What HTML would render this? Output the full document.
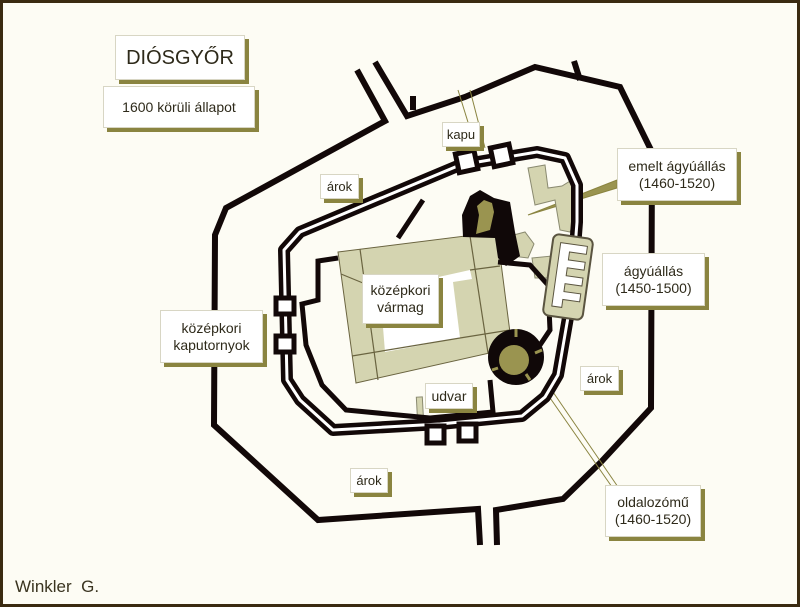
<!DOCTYPE html>
<html><head><meta charset="utf-8"><style>
html,body{margin:0;padding:0}
body{width:800px;height:607px;overflow:hidden;background:#fdfcf4;font-family:"Liberation Sans",sans-serif}
svg{position:absolute;left:0;top:0}
.lb{position:absolute;background:#fff;border:1px solid #d8d6c4;box-shadow:4px 4px 0 #8a8440;color:#2e2a1a;text-align:center;display:flex;align-items:center;justify-content:center;line-height:1.2;font-size:14px}
</style></head><body>
<svg width="800" height="607" viewBox="0 0 800 607">
<rect x="1.5" y="1.5" width="797" height="604" fill="none" stroke="#3a2a10" stroke-width="3"/>
<g fill="none" stroke="#120808" stroke-width="6" stroke-linejoin="miter">
<polyline points="357,70 385,121 226,208 215,235 214,425 318,520 478,509 480,545"/>
<polyline points="375,62 407,116 465,97 535,67 620,87 652,152 651,408 601,462 563,499 496,510 497,545"/>
<line x1="574" y1="61" x2="580" y2="80"/>
<line x1="413" y1="96" x2="413" y2="110"/>
</g>
<!-- gate path lines -->
<g stroke="#8a8440" stroke-width="1" fill="none">
<line x1="458" y1="90" x2="476" y2="148"/><line x1="470" y1="90" x2="485" y2="148"/>
<line x1="548" y1="395" x2="612" y2="487"/><line x1="553" y1="392" x2="618" y2="487"/>
</g>
<polygon points="617,180 617,188 528,215" fill="#9a9450" stroke="#8a8440" stroke-width="1"/>
<!-- palace -->
<g>
<polygon points="338,252 497,232 512,348 356,383" fill="#d4d4b0" stroke="#6a6440" stroke-width="1"/>
<polygon points="380,290 470,270 472,279 453,282 460,338 385,352" fill="#fff"/>
<g stroke="#6a6440" stroke-width="1.2">
<line x1="360" y1="249" x2="378" y2="380"/>
<line x1="470" y1="236" x2="488" y2="353"/>
<line x1="341" y1="274" x2="380" y2="290"/>
<line x1="470" y1="270" x2="500" y2="266"/>
<line x1="352" y1="356" x2="460" y2="338"/>
<line x1="460" y1="338" x2="510" y2="330"/>
</g>
</g>
<!-- gray structures -->
<g fill="#d4d4b0" stroke="#8a8a70" stroke-width="1">
<path d="M528,168 L545,165 L548,188 L562,186 L575,178 L578,215 L570,232 L560,230 L555,200 L535,205 Z"/>
<path d="M510,236 L525,232 L534,244 L528,258 L512,256 Z"/>
<path d="M532,258 L552,256 L553,278 L535,278 Z"/>
<rect x="417" y="397" width="6" height="30" transform="rotate(-3 420 410)"/>
</g>
<!-- emelt ágyúállás black -->
<polygon points="462,215 470,196 480,190 494,198 510,202 515,232 520,256 506,266 498,258 495,238 463,237" fill="#100808"/>
<polygon points="477,206 484,200 492,203 494,212 490,230 476,234 479,215" fill="#9a9450"/>
<!-- oldalozómű -->
<circle cx="516" cy="357" r="28" fill="#100808"/>
<circle cx="514" cy="360" r="15" fill="#9a9450"/>
<g stroke="#9a9450" stroke-width="3"><line x1="516" y1="329" x2="516" y2="337"/><line x1="542" y1="350" x2="535" y2="353"/><line x1="492" y1="370" x2="498" y2="368"/><line x1="530" y1="380" x2="526" y2="374"/></g>
<!-- inner double wall -->
<path d="M300,232 L460,165 L537,152 L565,158 L577,185 L577,222 L571,300 L558,375 L545,397 L522,416 L440,424 L333,430 L300,400 L287,380 L284,250 Z" fill="none" stroke="#120808" stroke-width="12" stroke-linejoin="round"/>
<path d="M300,232 L460,165 L537,152 L565,158 L577,185 L577,222 L571,300 L558,375 L545,397 L522,416 L440,424 L333,430 L300,400 L287,380 L284,250 Z" fill="none" stroke="#fff" stroke-width="3" stroke-linejoin="round"/>
<!-- inner thick wall -->
<g fill="none" stroke="#120808" stroke-width="5">
<polyline points="338,258 318,261 318,300 302,304 306,345 322,385 346,410 430,418 493,412 490,380"/>
<polyline points="398,238 423,200"/>
<polyline points="498,262 530,265 548,285 550,330 540,345"/>
</g>
<!-- towers -->
<g fill="#fff" stroke="#120808" stroke-width="5">
<rect x="457" y="152" width="19" height="19" transform="rotate(-12 466 161)"/>
<rect x="492" y="146" width="19" height="19" transform="rotate(-12 501 155)"/>
<rect x="276" y="298" width="18" height="16"/>
<rect x="276" y="336" width="18" height="16"/>
<rect x="427" y="426" width="17" height="17"/>
<rect x="459" y="424" width="17" height="17"/>
</g>
<!-- ágyúállás platform -->
<g transform="rotate(8 568 277)">
<rect x="548" y="236" width="40" height="82" rx="6" fill="#d4d4b0" stroke="#5a5440" stroke-width="2"/>
<path d="M556,244 L583,244 L583,252 L566,252 L566,260 L583,260 L583,268 L566,268 L566,276 L583,276 L583,284 L566,284 L566,292 L583,292 L583,300 L566,300 L566,308 L556,308 Z" fill="#fff" stroke="#5a5440" stroke-width="1"/>
</g>
</svg>
<div class="lb" style="left:115px;top:35px;width:128px;height:43px;font-size:20px">DIÓSGYŐR</div>
<div class="lb" style="left:103px;top:86px;width:150px;height:40px">1600 körüli állapot</div>
<div class="lb" style="left:442px;top:122px;width:36px;height:23px;font-size:13px">kapu</div>
<div class="lb" style="left:320px;top:174px;width:37px;height:23px;font-size:13px">árok</div>
<div class="lb" style="left:617px;top:148px;width:118px;height:51px">emelt ágyúállás<br>(1460-1520)</div>
<div class="lb" style="left:602px;top:253px;width:101px;height:51px">ágyúállás<br>(1450-1500)</div>
<div class="lb" style="left:362px;top:274px;width:75px;height:48px">középkori<br>vármag</div>
<div class="lb" style="left:160px;top:310px;width:101px;height:51px">középkori<br>kaputornyok</div>
<div class="lb" style="left:580px;top:366px;width:37px;height:23px;font-size:13px">árok</div>
<div class="lb" style="left:425px;top:383px;width:46px;height:24px">udvar</div>
<div class="lb" style="left:350px;top:468px;width:36px;height:23px;font-size:13px">árok</div>
<div class="lb" style="left:605px;top:485px;width:94px;height:50px">oldalozómű<br>(1460-1520)</div>
<div style="position:absolute;left:15px;top:577px;font-size:17px;color:#3a3420">Winkler&nbsp; G.</div>
</body></html>
